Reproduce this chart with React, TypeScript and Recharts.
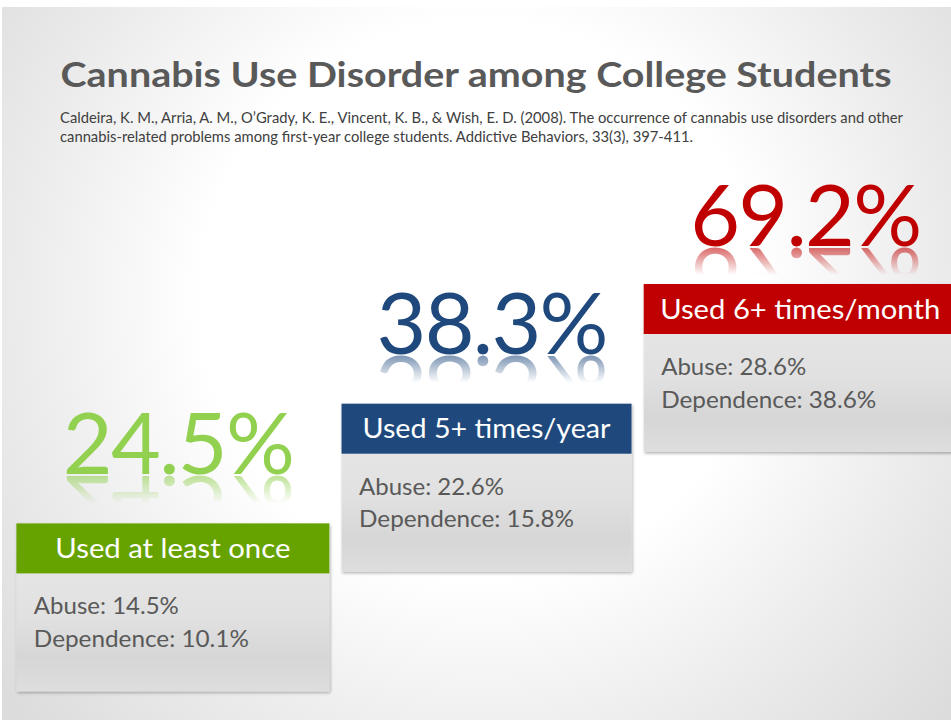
import React from 'react';
import { BarChart, Bar, XAxis, YAxis } from 'recharts';

// card categories, left to right
const categories = ['Used at least once', 'Used 5+ times/year', 'Used 6+ times/month'];
// cannabis use disorder (abuse or dependence), %
const disorderRates = [24.5, 38.3, 69.2];
const abuseRates = [14.5, 22.6, 28.6];
const dependenceRates = [10.1, 15.8, 38.6];
// staircase level of each card
const steps = [1, 2, 3];

const title = 'Cannabis Use Disorder among College Students';
const citation = [
  'Caldeira, K. M., Arria, A. M., O’Grady, K. E., Vincent, K. B., & Wish, E. D. (2008). The occurrence of cannabis use disorders and other',
  'cannabis-related problems among first-year college students. Addictive Behaviors, 33(3), 397-411.',
];

const data = categories.map((category, i) => ({
  category,
  total: disorderRates[i],
  abuse: abuseRates[i],
  dependence: dependenceRates[i],
  step: steps[i],
}));

const FONT = 'Lato, "Open Sans", sans-serif';
const HEADER_COLORS = ['#66a300', '#1f497d', '#c00000'];
const NUMBER_COLORS = ['#92d050', '#1f497d', '#c00000'];
const CARD_W = [313, 290, 313];
const NUMBER_GAP = [49, 50, 38];
const HEADER_TEXT_W = [235, 248, 280];
const CARD_H = 168;
const HEADER_H = 50;

const Card = (props: any) => {
  const { x, y, width, index, payload } = props;
  const cx = x + width / 2;
  const w = CARD_W[index];
  const left = cx - w / 2;
  const top = y;
  const numY = top - NUMBER_GAP[index];
  const numText = `${payload.total}%`;
  const numX = cx + 6;
  return (
    <g>
      <defs>
        <linearGradient id={`body-${index}`} x1="0" y1="0" x2="0" y2="1">
          <stop offset="0" stopColor="#e9e9e9" />
          <stop offset="0.55" stopColor="#e1e1e1" />
          <stop offset="0.8" stopColor="#d6d6d6" />
          <stop offset="1" stopColor="#dedede" />
        </linearGradient>
        <linearGradient id={`fade-${index}`} x1="0" y1="0" x2="0" y2="1">
          <stop offset="0" stopColor="#fff" stopOpacity={0.6} />
          <stop offset="1" stopColor="#fff" stopOpacity={0} />
        </linearGradient>
        <mask id={`mask-${index}`} maskUnits="userSpaceOnUse" x={left - 40} y={numY} width={w + 80} height={34}>
          <rect x={left - 40} y={numY + 1} width={w + 80} height={28} fill={`url(#fade-${index})`} />
        </mask>
        <filter id={`shadow-${index}`} x="-5%" y="-5%" width="112%" height="115%">
          <feDropShadow dx={1} dy={1.5} stdDeviation={1.5} floodColor="#000" floodOpacity={0.3} />
        </filter>
      </defs>
      <text id={`num-${index}`} x={numX} y={numY} textAnchor="middle" fontFamily={FONT} fontSize={86}
        fill={NUMBER_COLORS[index]} textLength={232}>
        {numText}
      </text>
      {/* mirrored reflection under the big number */}
      <g mask={`url(#mask-${index})`}>
        <use href={`#num-${index}`} transform={`translate(0 ${2 * numY + 2}) scale(1 -1)`} />
      </g>
      <rect x={left} y={top} width={w} height={CARD_H} fill={`url(#body-${index})`} filter={`url(#shadow-${index})`} />
      <rect x={left} y={top} width={w} height={HEADER_H} fill={HEADER_COLORS[index]} />
      <text x={cx} y={top + 34.5} textAnchor="middle" fontFamily={FONT} fontSize={26} fill="#ffffff"
        textLength={HEADER_TEXT_W[index]} lengthAdjust="spacingAndGlyphs">
        {payload.category}
      </text>
      <text x={left + 17.5} y={top + HEADER_H + 41} fontFamily={FONT} fontSize={23} fill="#595959"
        textLength={145} lengthAdjust="spacingAndGlyphs">
        {`Abuse: ${payload.abuse}%`}
      </text>
      <text x={left + 17.5} y={top + HEADER_H + 73.5} fontFamily={FONT} fontSize={23} fill="#595959"
        textLength={215} lengthAdjust="spacingAndGlyphs">
        {`Dependence: ${payload.dependence}%`}
      </text>
    </g>
  );
};

const App: React.FC = () => {
  return (
    <div style={{ position: 'absolute', left: 0, top: 0, width: 951, height: 720, overflow: 'hidden', background: '#fff' }}>
      <svg width={951} height={720} style={{ position: 'absolute', left: 0, top: 0 }}>
        <defs>
          <radialGradient id="slideBg" gradientUnits="userSpaceOnUse" cx={480} cy={300} r={620}>
            <stop offset="0" stopColor="#ffffff" />
            <stop offset="0.45" stopColor="#ffffff" />
            <stop offset="0.75" stopColor="#ebebeb" />
            <stop offset="1" stopColor="#dcdcdc" />
          </radialGradient>
        </defs>
        <rect x={2} y={7} width={949} height={713} fill="url(#slideBg)" />
        <text x={60.5} y={87} fontFamily={FONT} fontWeight="bold" fontSize={35} fill="#595959"
          textLength={831} lengthAdjust="spacingAndGlyphs">
          {title}
        </text>
        <text x={60} y={123} fontFamily={FONT} fontSize={15} fill="#404040"
          textLength={843} lengthAdjust="spacingAndGlyphs">
          {citation[0]}
        </text>
        <text x={60} y={142} fontFamily={FONT} fontSize={15} fill="#404040"
          textLength={633} lengthAdjust="spacingAndGlyphs">
          {citation[1]}
        </text>
      </svg>
      <div style={{ position: 'absolute', left: 0, top: 0 }}>
        <BarChart width={957} height={720} data={data} margin={{ top: 164.3, right: 0, bottom: 76.9, left: 16 }}>
          <XAxis dataKey="category" hide />
          <YAxis type="number" domain={[0, 4]} hide />
          <Bar dataKey="step" isAnimationActive={false} shape={<Card />} />
        </BarChart>
      </div>
    </div>
  );
};

export default App;
